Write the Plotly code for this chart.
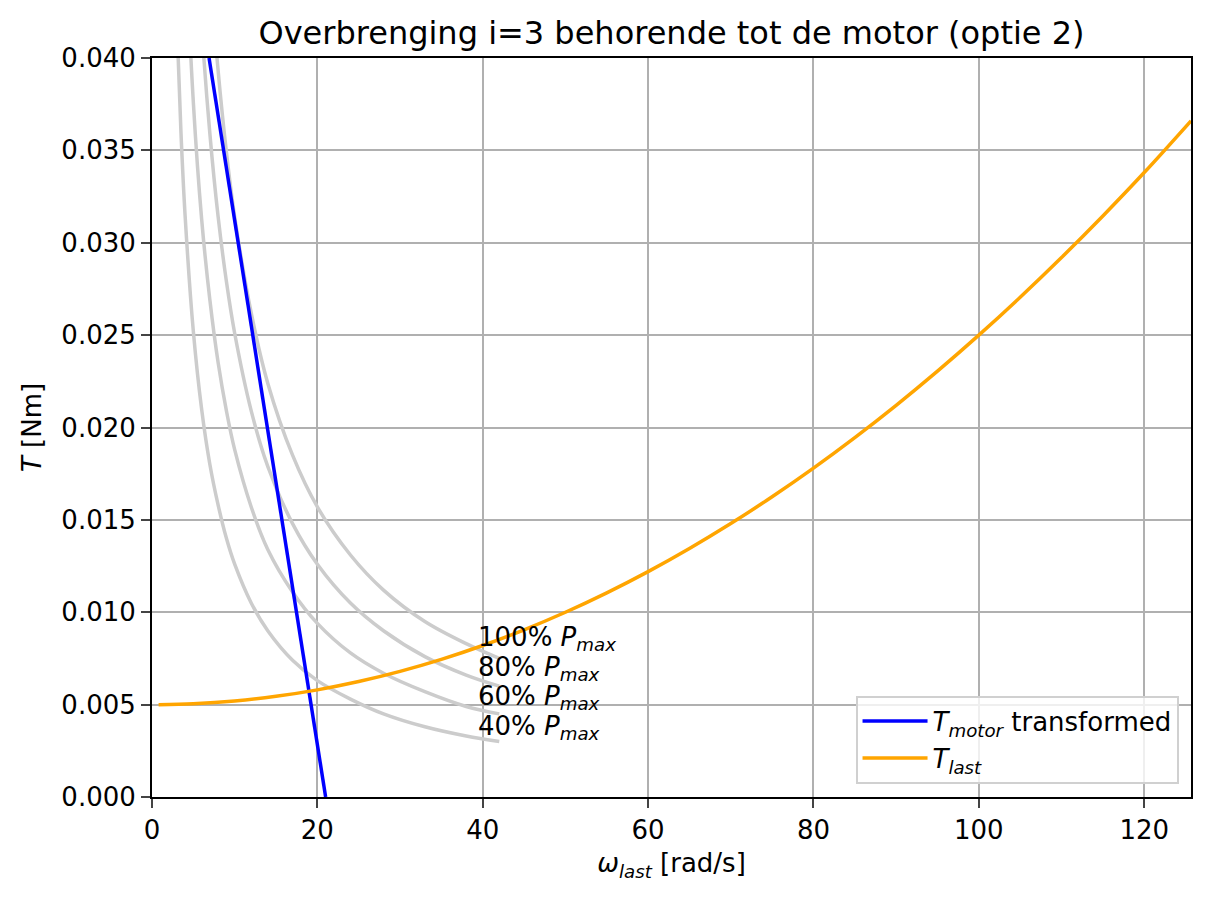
import plotly.graph_objects as go

# omega_last [rad/s] and torques
omega_last = [0.8, 5, 10, 15, 20, 25, 30, 35, 40, 45, 50, 55, 60, 65, 70, 75,
              80, 85, 90, 95, 100, 105, 110, 115, 120, 125.66]
t_last = [0.0050, 0.00505, 0.0052, 0.00545, 0.0058, 0.00625, 0.0068, 0.00745,
          0.0082, 0.00905, 0.0100, 0.01105, 0.0122, 0.01345, 0.0148, 0.01625,
          0.0178, 0.01945, 0.0212, 0.02305, 0.0250, 0.02705, 0.0292, 0.03145,
          0.0338, 0.0366]

omega_motor = [6.9, 21.0]
t_motor = [0.040, 0.000]

omega_p = [3, 3.5, 4, 5, 6, 7, 8, 9, 10, 12, 14, 17, 20, 24, 28, 33, 38, 42]
t_p100 = [0.1047, 0.0897, 0.0785, 0.0628, 0.0523, 0.0449, 0.0393, 0.0349, 0.0314,
          0.0262, 0.0224, 0.0185, 0.0157, 0.0131, 0.0112, 0.0095, 0.0083, 0.0075]
t_p80 = [0.0837, 0.0717, 0.0628, 0.0502, 0.0418, 0.0359, 0.0314, 0.0279, 0.0251,
         0.0209, 0.0179, 0.0148, 0.0126, 0.0105, 0.0090, 0.0076, 0.0066, 0.0060]
t_p60 = [0.0627, 0.0537, 0.0470, 0.0376, 0.0313, 0.0269, 0.0235, 0.0209, 0.0188,
         0.0157, 0.0134, 0.0111, 0.0094, 0.0078, 0.0067, 0.0057, 0.0049, 0.0045]
t_p40 = [0.0420, 0.0360, 0.0315, 0.0252, 0.0210, 0.0180, 0.0158, 0.0140, 0.0126,
         0.0105, 0.0090, 0.0074, 0.0063, 0.0053, 0.0045, 0.0038, 0.0033, 0.0030]

p_labels = ['100%', '80%', '60%', '40%']
p_label_y = [0.0080, 0.0064, 0.0048, 0.0032]

FONT = 'DejaVu Sans'

data = []
for t_p in [t_p100, t_p80, t_p60, t_p40]:
    data.append(go.Scatter(
        x=omega_p, y=t_p,
        mode='lines',
        line=dict(color='rgb(204,204,204)', width=3.5, shape='spline'),
        showlegend=False,
        hoverinfo='skip'
    ))
data.append(go.Scatter(
    x=omega_motor, y=t_motor,
    mode='lines',
    name='<i>T<sub>motor</sub></i> transformed',
    line=dict(color='blue', width=3.5)
))
data.append(go.Scatter(
    x=omega_last, y=t_last,
    mode='lines',
    name='<i>T<sub>last</sub></i>',
    line=dict(color='orange', width=3.5, shape='spline')
))

# page body has an 8px margin, so the figure is a bit smaller than the window
fig = go.Figure(
    data=data,
    layout=go.Layout(
        width=1196, height=884, autosize=False,
        margin=dict(l=144, r=11, t=50, b=95),
        font=dict(family=FONT, size=26, color='black'),
        plot_bgcolor='white',
        paper_bgcolor='white',
        title=dict(text='Overbrenging i=3 behorende tot de motor (optie 2)',
                   font=dict(size=32), x=0.5, xref='paper',
                   y=1 - 25 / 884, yref='container', yanchor='middle'),
        legend=dict(x=0.988, y=0.018, xanchor='right', yanchor='bottom',
                    bgcolor='rgba(255,255,255,0.8)', bordercolor='#d0d0d0',
                    borderwidth=2, font=dict(size=26), itemwidth=65),
    )
)

for lab, ly in zip(p_labels, p_label_y):
    fig.add_annotation(x=39.2, y=ly, xanchor='left', yanchor='bottom',
                       text=lab + ' <i>P<sub>max</sub></i>', showarrow=False,
                       font=dict(size=26), yshift=-8)

fig.update_xaxes(range=[0, 125.66], tickvals=[0, 20, 40, 60, 80, 100, 120],
                 showgrid=True, gridcolor='#b0b0b0', gridwidth=2,
                 zeroline=False, showline=True, linecolor='black', linewidth=2,
                 mirror=True, ticks='outside', ticklen=9, tickwidth=2,
                 title=dict(text='<i>ω<sub>last</sub></i> [rad/s]', standoff=10,
                            font=dict(size=26)))
fig.update_yaxes(range=[0, 0.04], tickvals=[0, 0.005, 0.01, 0.015, 0.02, 0.025,
                                            0.03, 0.035, 0.04],
                 tickformat='.3f',
                 showgrid=True, gridcolor='#b0b0b0', gridwidth=2,
                 zeroline=False, showline=True, linecolor='black', linewidth=2,
                 mirror=True, ticks='outside', ticklen=9, tickwidth=2,
                 title=dict(text='<i>T</i> [Nm]', standoff=12,
                            font=dict(size=26)))

fig.write_html('out.html')
